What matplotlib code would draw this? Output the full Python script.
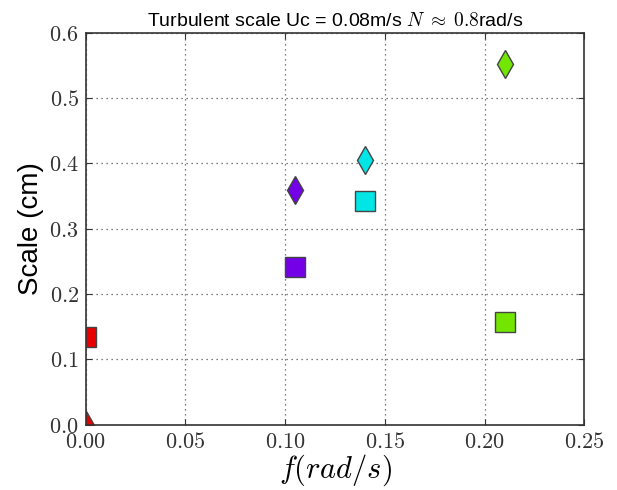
import numpy as np
import matplotlib
matplotlib.use('Agg')
import matplotlib.pyplot as plt
from matplotlib.ticker import FuncFormatter

plt.rcParams['mathtext.fontset'] = 'cm'
plt.rcParams['font.family'] = ['Liberation Sans', 'DejaVu Sans']

# data
freq = [0.0, 0.105, 0.14, 0.21]
scale_sq = [0.135, 0.242, 0.342, 0.157]
scale_dm = [0.0, 0.360, 0.405, 0.553]
colors = ['#e60000', '#7300e6', '#00e6e6', '#73e600']

fig = plt.figure(figsize=(6.17, 4.90), dpi=100)
ax = fig.add_axes([0.139, 0.133, 0.808, 0.800])

for x, ys, yd, c in zip(freq, scale_sq, scale_dm, colors):
    ax.plot(x, ys, 's', ms=14, color=c, mec='#444444', mew=1)
    ax.plot(x, yd, 'd', ms=14, color=c, mec='#444444', mew=1)

ax.set_xlim(0, 0.25)
ax.set_ylim(0, 0.6)
ax.set_xticks(np.arange(0, 0.26, 0.05))
ax.set_yticks(np.arange(0, 0.61, 0.1))
ax.xaxis.set_major_formatter(FuncFormatter(lambda v, p: r'$%.2f$' % v))
ax.yaxis.set_major_formatter(FuncFormatter(lambda v, p: r'$%.1f$' % v))
ax.tick_params(direction='in', top=True, right=True, length=4, labelsize=16,
               pad=5, colors='#333333', labelcolor='#333333')
ax.grid(ls=(0, (1, 3)), color='#555555', lw=0.9)
for s in ax.spines.values():
    s.set_color('#333333')
    s.set_linewidth(1.2)

ax.set_title(r'Turbulent scale Uc = 0.08m/s $N\;\approx\;0.8$rad/s', fontsize=14, pad=5)
ax.set_xlabel(r'$f(rad/s)$', fontsize=22, labelpad=0)
ax.set_ylabel('Scale (cm)', fontsize=20)

fig.savefig('out.png', dpi=100)
